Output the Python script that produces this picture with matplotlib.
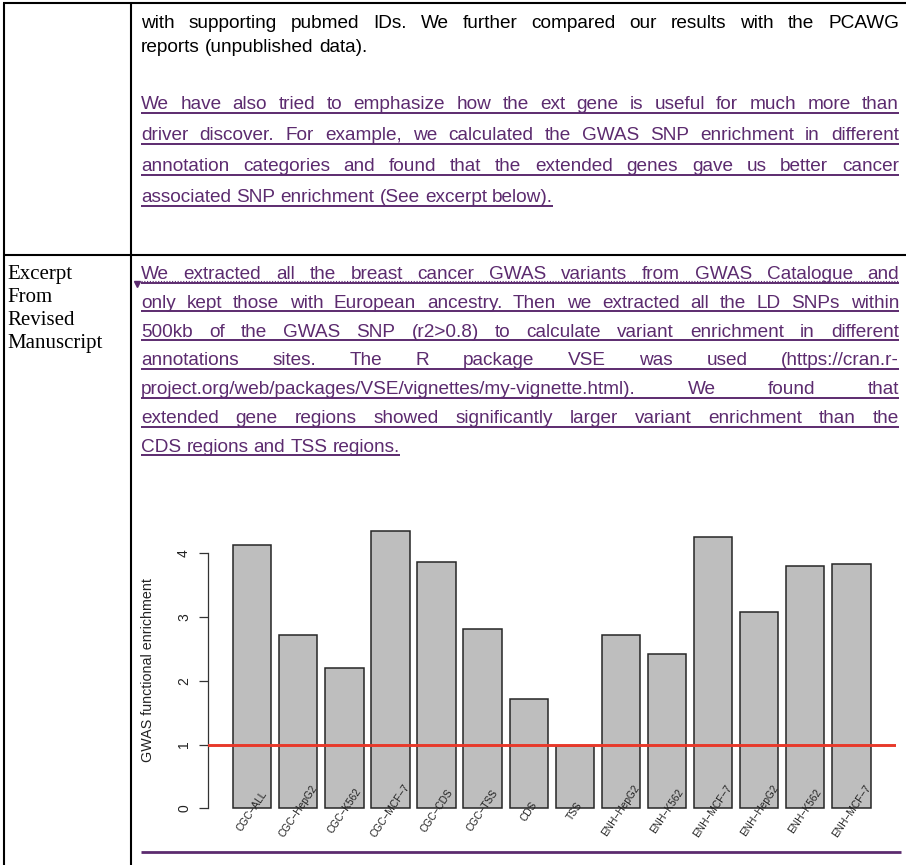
import matplotlib
matplotlib.use("Agg")
import matplotlib.pyplot as plt
from matplotlib import font_manager as fm
from matplotlib.font_manager import FontProperties
import numpy as np

# ---------------- data ----------------
categories = ["CGC-ALL", "CGC-HepG2", "CGC-K562", "CGC-MCF-7", "CGC-CDS", "CGC-TSS",
              "CDS", "TSS", "ENH-HepG2", "ENH-K562", "ENH-MCF-7",
              "ENH-HepG2", "ENH-K562", "ENH-MCF-7"]
enrichment = [4.13, 2.71, 2.19, 4.34, 3.86, 2.80, 1.72, 0.97,
              2.71, 2.42, 4.25, 3.08, 3.79, 3.82]
y_ticks = [0, 1, 2, 3, 4]
reference_level = 1
y_label = "GWAS functional enrichment"

response_lines = [
    "with supporting pubmed IDs. We further compared our results with the PCAWG",
    "reports (unpublished data).",
]
added_lines = [
    "We have also tried to emphasize how the ext gene is useful for much more than",
    "driver discover. For example, we calculated the GWAS SNP enrichment in different",
    "annotation categories and found that the extended genes gave us better cancer",
    "associated SNP enrichment (See excerpt below).",
]
excerpt_lines = [
    "We extracted all the breast cancer GWAS variants from GWAS Catalogue and",
    "only kept those with European ancestry. Then we extracted all the LD SNPs within",
    "500kb of the GWAS SNP (r2>0.8) to calculate variant enrichment in different",
    "annotations sites. The R package VSE was used (https://cran.r-",
    "project.org/web/packages/VSE/vignettes/my-vignette.html). We found that",
    "extended gene regions showed significantly larger variant enrichment than the",
    "CDS regions and TSS regions.",
]
row_label = ["Excerpt", "From", "Revised", "Manuscript"]

# ---------------- styling ----------------
W, H = 906, 865
PURPLE = "#5c2b6f"
BAR_FILL = "#bebebe"
BAR_EDGE = "#262626"
RED = "#e8392a"
body_family = "Liberation Sans"

fig = plt.figure(figsize=(W / 100, H / 100), dpi=100)
doc = fig.add_axes([0, 0, 1, 1])
doc.set_xlim(0, W)
doc.set_ylim(H, 0)
doc.axis("off")

renderer = fig.canvas.get_renderer()


def text_width(s, fp):
    w, h, d = renderer.get_text_width_height_descent(s, fp, ismath=False)
    return w


TEXT_L, TEXT_R = 141, 899

# body size: 13.7 pt, reduced only if a justified line would not fit
body_size = 13.7
all_justified = response_lines[:-1] + added_lines[:-1] + excerpt_lines[:-1]
for _ in range(3):
    fp = FontProperties(family=body_family, size=body_size)
    sp = text_width("a a", fp) - text_width("aa", fp)
    worst = 0
    for ln in all_justified:
        words = ln.split(" ")
        nat = sum(text_width(w, fp) for w in words) + 0.55 * sp * (len(words) - 1)
        worst = max(worst, nat)
    if worst > TEXT_R - TEXT_L:
        body_size *= (TEXT_R - TEXT_L) / worst
    else:
        break
body_fp = FontProperties(family=body_family, size=body_size)
space_w = text_width("a a", body_fp) - text_width("aa", body_fp)


def draw_line(line, y, color, justify, underline=False):
    words = line.split(" ")
    widths = [text_width(w, body_fp) for w in words]
    if justify and len(words) > 1:
        gap = (TEXT_R - TEXT_L - sum(widths)) / (len(words) - 1)
    else:
        gap = space_w
    x = TEXT_L
    for w, ww in zip(words, widths):
        doc.text(x, y, w, fontproperties=body_fp, color=color,
                 ha="left", va="baseline")
        x += ww + gap
    end = x - gap
    if underline:
        doc.plot([TEXT_L, end], [y + 3.5, y + 3.5], color=color, lw=1.4,
                 solid_capstyle="butt")
    return end


def draw_paragraph(lines, y0, step, color, underline):
    for i, ln in enumerate(lines):
        draw_line(ln, y0 + i * step, color, justify=(i < len(lines) - 1),
                  underline=underline)


# table rules
rule = dict(color="black", lw=1.5, solid_capstyle="butt")
doc.plot([3, W], [3, 3], **rule)
doc.plot([4, 4], [3, H], **rule)
doc.plot([131, 131], [3, H], **rule)
doc.plot([4, W], [255, 255], **rule)

draw_paragraph(response_lines, 28, 24, "black", underline=False)
draw_paragraph(added_lines, 109, 31, PURPLE, underline=True)
draw_paragraph(excerpt_lines, 279, 28.8, PURPLE, underline=True)

# tracked-change marker on the first excerpt line
doc.plot([TEXT_L, TEXT_R], [281, 281], color=PURPLE, lw=0.8, ls=(0, (1, 1.5)))
doc.plot([137], [284], marker="v", ms=4, color=PURPLE)

serif_fp = FontProperties(family="Liberation Serif", size=15)
for i, s in enumerate(row_label):
    doc.text(7, 279 + i * 23, s, fontproperties=serif_fp, color="black",
             ha="left", va="baseline")

# empty underlined line below the figure
doc.plot([TEXT_L, 901], [852, 852], color=PURPLE, lw=2.0, solid_capstyle="butt")

# ---------------- bar chart ----------------
n = len(enrichment)
space, width = 0.2, 1.0
lefts = space + np.arange(n) * (space + width)
centers = lefts + width / 2
x_lo, x_hi = lefts[0], lefts[-1] + width
x_pad = 0.04 * (x_hi - x_lo)
y_hi = max(enrichment)
y_pad = 0.04 * y_hi

px_left, px_right, px_top, px_bottom = 207.5, 896, 520, 819.5
ax = fig.add_axes([px_left / W, 1 - px_bottom / H,
                   (px_right - px_left) / W, (px_bottom - px_top) / H])
ax.patch.set_alpha(0)
ax.set_xlim(x_lo - x_pad, x_hi + x_pad)
ax.set_ylim(-y_pad, y_hi + y_pad)

ax.bar(centers, enrichment, width=width, color=BAR_FILL, edgecolor=BAR_EDGE,
       linewidth=1.1, zorder=2)
ax.axhline(reference_level, color=RED, lw=2.1, zorder=3)

for s in ["top", "right", "bottom"]:
    ax.spines[s].set_visible(False)
ax.spines["left"].set_bounds(y_ticks[0], y_ticks[-1])
ax.spines["left"].set_color("#333333")
ax.spines["left"].set_linewidth(0.9)
ax.set_xticks([])
ax.set_yticks(y_ticks)
ax.set_yticklabels([str(t) for t in y_ticks], rotation=90, va="center",
                   family="Liberation Sans", fontsize=10, color="#222222")
ax.tick_params(axis="y", length=6.8, width=0.9, color="#333333", pad=5)

ax.text((148 - px_left) / (px_right - px_left), 0.5, y_label,
        transform=ax.transAxes, rotation=90, ha="center", va="center",
        family="Liberation Sans", fontsize=10.3, color="#222222")

for c, lab in zip(centers, categories):
    ax.text(c, -0.04, lab.replace("-", "\u2212"), rotation=56, ha="center",
            va="center", rotation_mode="anchor", family="Liberation Sans",
            fontsize=7.3, color="#222222", zorder=4, clip_on=False)

fig.savefig("out.png", dpi=100)
